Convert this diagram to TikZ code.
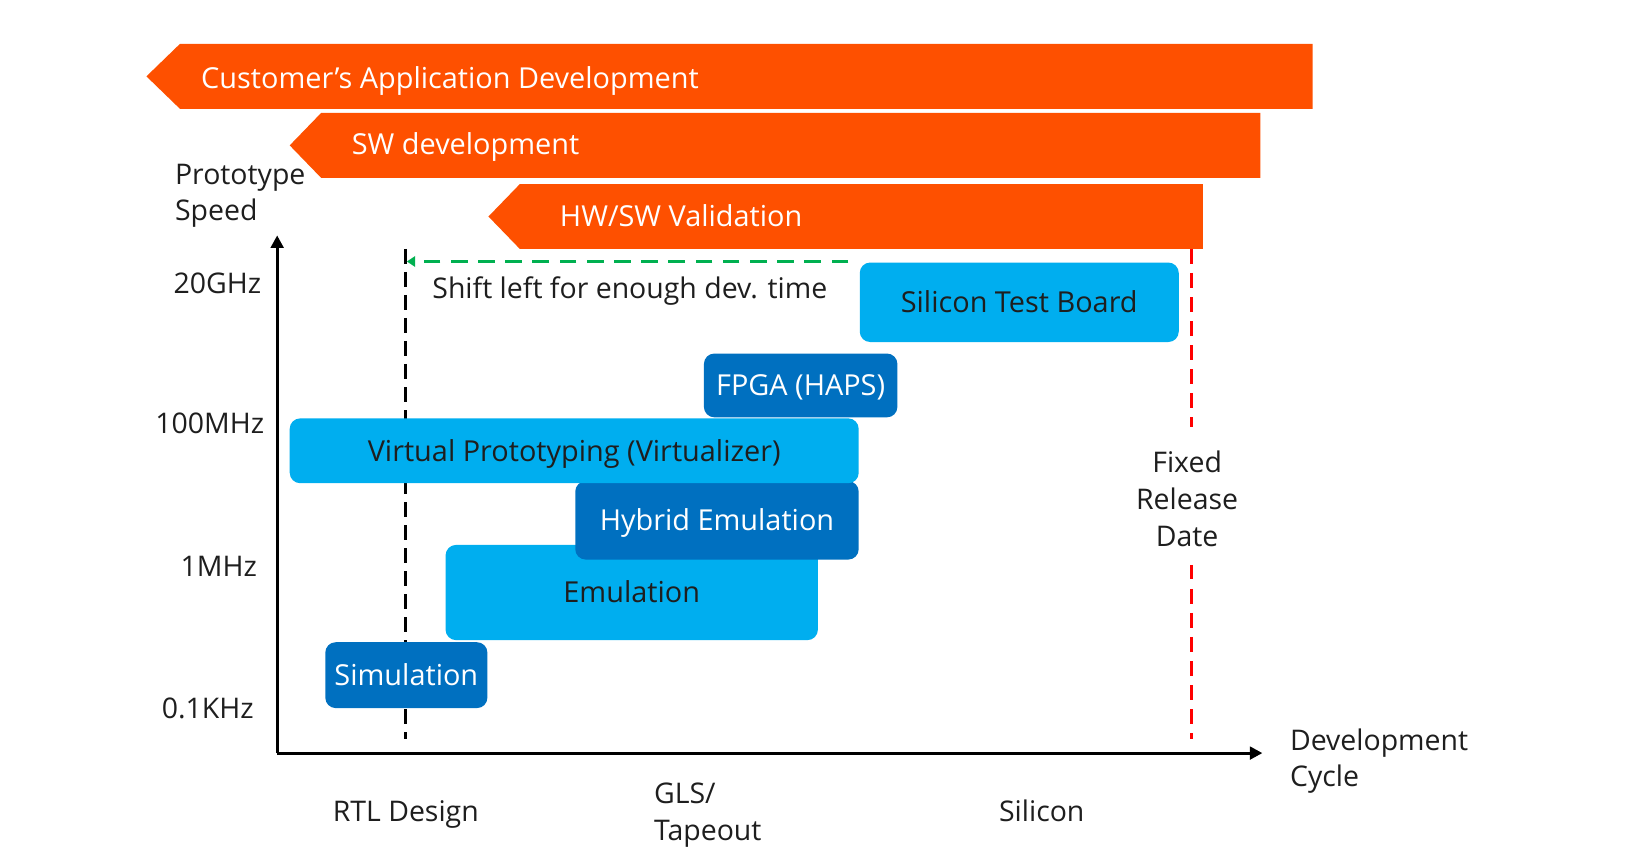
\documentclass[tikz,border=0pt]{standalone}
\usepackage{fontspec}
\setmainfont{Open Sans}
\usetikzlibrary{arrows.meta}
\definecolor{orng}{HTML}{FE5000}
\definecolor{lblue}{HTML}{00AEEF}
\definecolor{dblue}{HTML}{0070C0}
\definecolor{grn}{HTML}{00B050}
\definecolor{txt}{HTML}{1E1E1E}
\begin{document}
\begin{tikzpicture}[x=0.5pt,y=-0.5pt,
  capc/.style={text height=9.8pt,text depth=0pt},
  banner/.style={fill=orng},
  bantext/.style={capc,text=white,font=\fontsize{13.8}{16}\selectfont,anchor=west,inner sep=0pt},
  lbl/.style={text=txt,font=\fontsize{13.6}{17.5}\selectfont,inner sep=0pt},
  boxbase/.style={capc,rounded corners=5pt,inner sep=0pt,font=\fontsize{13.8}{15}\selectfont},
  lbox/.style={boxbase,fill=lblue,text=txt},
  dbox/.style={boxbase,fill=dblue,text=white},
  axis/.style={line width=1.5pt,-{Triangle[length=6pt,width=6pt]}},
  blkdash/.style={line width=1.5pt,dash pattern=on 7pt off 4pt},
  reddash/.style={line width=1.5pt,red,dash pattern=on 7pt off 4.5pt},
  grndash/.style={line width=1.5pt,grn,dash pattern=on 8pt off 5pt,-{Triangle[length=4pt,width=5pt]}}
]
\useasboundingbox (0,0) rectangle (1568,826);

% banners
\fill[banner] (140,73) -- (172,42) -- (1255,42) -- (1255,104) -- (172,104) -- cycle;
\node[bantext] (cad) at (192,75) {Customer’s Application Development};
\fill[banner] (277,139) -- (307,108) -- (1205,108) -- (1205,170) -- (307,170) -- cycle;
\node[bantext] (swd) at (336,138) {SW development};
\fill[banner] (467,207) -- (497,176) -- (1150,176) -- (1150,238) -- (497,238) -- cycle;
\node[bantext] (hws) at (535,207) {HW/SW Validation};

% axis labels
\node[lbl,anchor=west,align=left] (ps) at (167,187) {Prototype\\Speed};
\node[lbl,capc,anchor=east] (g20) at (250,271) {20GHz};
\node[lbl,capc,anchor=east] (m100) at (253,405) {100MHz};
\node[lbl,capc,anchor=east] (m1) at (246,541) {1MHz};
\node[lbl,capc,anchor=east] (k01) at (243,677) {0.1KHz};

% axes
\coordinate (orig) at (265,720);
\coordinate (ytop) at (265,225);
\coordinate (xend) at (1207,720);
\draw[axis] (orig) -- (ytop);
\draw[axis] (orig) -- (xend);

% black dashed line
\coordinate (bt) at (388,238);
\coordinate (bb) at (388,707);
\draw[blkdash] (bt) -- (bb);

% green arrow
\coordinate (gs) at (811,250);
\coordinate (ge) at (389,250);
\draw[grndash] (gs) -- (ge);
\node[lbl,capc,anchor=west] (shift) at (413,276) {Shift left for enough dev. time};

% boxes
\node[lbox,minimum width=178pt,minimum height=45.5pt] (em) at (604,566.5) {Emulation};
\node[dbox,minimum width=135.5pt,minimum height=37.5pt] (he) at (685.5,497.5) {Hybrid Emulation};
\node[lbox,minimum width=272pt,minimum height=31pt] (vp) at (549,431) {Virtual Prototyping (Virtualizer)};
\node[dbox,minimum width=92.5pt,minimum height=30.5pt] (fpga) at (765.5,368.5) {FPGA (HAPS)};
\node[lbox,minimum width=152.5pt,minimum height=38pt] (stb) at (974.5,289) {Silicon Test Board};
\node[dbox,minimum width=77.5pt,minimum height=31.5pt] (sim) at (388.5,645.5) {Simulation};

% red release date
\node[lbl,align=center] (frd) at (1135,477) {Fixed\\Release\\Date};
\coordinate (rt) at (1139,238);
\coordinate (rb) at (1139,707);
\draw[reddash] (rt) -- (1139,408);
\draw[reddash] (1139,540) -- (rb);

% x labels
\node[lbl,anchor=west,align=left] (dc) at (1233,727.5) {Development\\Cycle};
\node[lbl,capc] (rtl) at (388,776) {RTL Design};
\node[lbl,anchor=west,align=left] (gls) at (625,779.5) {GLS/\\Tapeout};
\node[lbl,capc] (si) at (996,776) {Silicon};
\end{tikzpicture}
\end{document}
